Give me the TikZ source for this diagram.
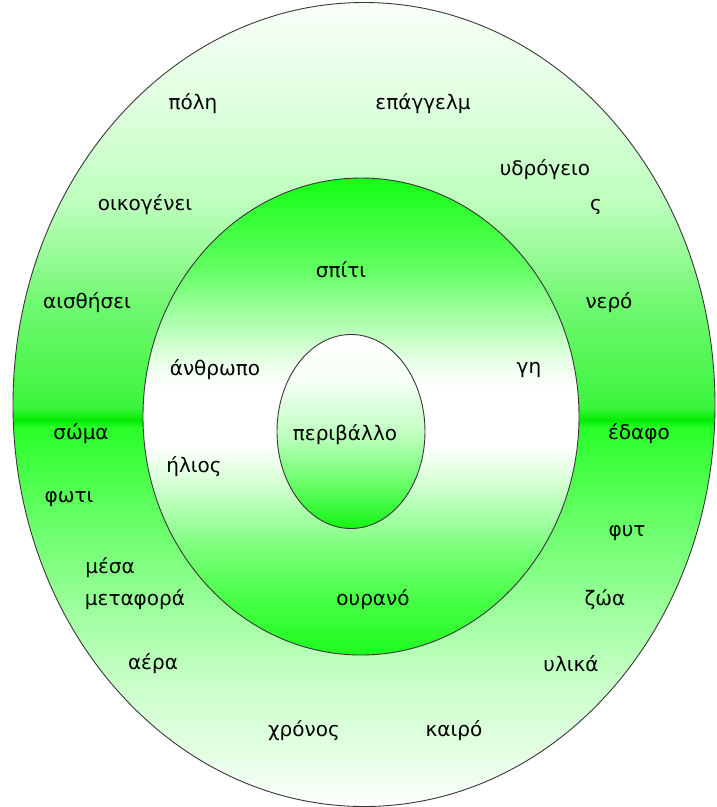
\documentclass[tikz,border=0pt]{standalone}
\usepackage{fontspec}
\setmainfont{DejaVu Sans}
\usetikzlibrary{shadings}

\definecolor{rim}{RGB}{55,55,55}

% outer ring: pale at top and bottom, strong green band across the middle
\pgfdeclareverticalshading{outershade}{100bp}{%
  color(0bp)=(white); color(25bp)=(white);
  color(26.6bp)=(rgb,255:red,240;green,255;blue,240);
  color(32.8bp)=(rgb,255:red,200;green,255;blue,200);
  color(39bp)=(rgb,255:red,140;green,255;blue,140);
  color(44bp)=(rgb,255:red,90;green,255;blue,90);
  color(48.6bp)=(rgb,255:red,40;green,255;blue,40);
  color(49bp)=(rgb,255:red,0;green,235;blue,0);
  color(49.8bp)=(rgb,255:red,60;green,245;blue,60);
  color(56.5bp)=(rgb,255:red,115;green,248;blue,115);
  color(59.6bp)=(rgb,255:red,155;green,252;blue,155);
  color(62.7bp)=(rgb,255:red,190;green,255;blue,190);
  color(69bp)=(rgb,255:red,225;green,255;blue,225);
  color(75bp)=(rgb,255:red,248;green,255;blue,248);
  color(100bp)=(white)}
% middle ring: green at top and bottom, white across the middle
\pgfdeclareverticalshading{middleshade}{100bp}{%
  color(0bp)=(rgb,255:red,30;green,250;blue,30);
  color(25bp)=(rgb,255:red,30;green,250;blue,30);
  color(30.8bp)=(rgb,255:red,70;green,255;blue,70);
  color(36bp)=(rgb,255:red,120;green,255;blue,120);
  color(43.3bp)=(rgb,255:red,215;green,255;blue,215);
  color(47bp)=(white); color(53bp)=(white);
  color(55.5bp)=(rgb,255:red,235;green,255;blue,235);
  color(60.1bp)=(rgb,255:red,170;green,255;blue,170);
  color(65.4bp)=(rgb,255:red,100;green,255;blue,100);
  color(75bp)=(rgb,255:red,20;green,255;blue,20);
  color(100bp)=(rgb,255:red,20;green,255;blue,20)}
% core: white at top to green at bottom
\pgfdeclareverticalshading{coreshade}{100bp}{%
  color(0bp)=(rgb,255:red,20;green,245;blue,20);
  color(25bp)=(rgb,255:red,20;green,245;blue,20);
  color(37.4bp)=(rgb,255:red,110;green,255;blue,110);
  color(49bp)=(rgb,255:red,190;green,255;blue,190);
  color(63bp)=(rgb,255:red,245;green,255;blue,245);
  color(75bp)=(white); color(100bp)=(white)}

\tikzset{
  ring/.style={draw=rim, line width=0.9pt},
  word/.style={font=\fontsize{20}{22}\selectfont, inner sep=0pt, anchor=center}
}

\begin{document}
\begin{tikzpicture}[x=1pt, y=-1pt]
\useasboundingbox (0,0) rectangle (716,807);

% three nested rings
\shade[ring, shading=outershade] (364,404.5) ellipse [x radius=351, y radius=402];
\shade[ring, shading=middleshade] (361,416.5) ellipse [x radius=218, y radius=238.5];
\shade[ring, shading=coreshade] (351,431.5) ellipse [x radius=74, y radius=97];

% outer ring words
\node[word] (poli) at (193,104) {πόλη};
\node[word] (epaggelm) at (423,104) {επάγγελμ};
\node[word] (ydrogeio) at (545,170) {υδρόγειο};
\node[word] (sigma) at (596,207) {ς};
\node[word] (oikogenei) at (145,205) {οικογένει};
\node[word] (aisthisei) at (87,303) {αισθήσει};
\node[word] (nero) at (609,303) {νερό};
\node[word] (soma) at (81,434) {σώμα};
\node[word] (edafo) at (639,434) {έδαφο};
\node[word] (foti) at (69,499) {φωτι};
\node[word] (fyt) at (627,533) {φυτ};
\node[word] (mesa) at (110,568) {μέσα};
\node[word] (metafora) at (135,600) {μεταφορά};
\node[word] (zoa) at (605,600) {ζώα};
\node[word] (aera) at (153,664) {αέρα};
\node[word] (ylika) at (571,664) {υλικά};
\node[word] (chronos) at (304,731) {χρόνος};
\node[word] (kairo) at (454,731) {καιρό};

% middle ring words
\node[word] (spiti) at (341,270) {σπίτι};
\node[word] (anthropo) at (215,370) {άνθρωπο};
\node[word] (gi) at (529,370) {γη};
\node[word] (ilios) at (194,467) {ήλιος};
\node[word] (ourano) at (373,600) {ουρανό};

% core word
\node[word] (perivallo) at (345,435) {περιβάλλο};
\end{tikzpicture}
\end{document}
